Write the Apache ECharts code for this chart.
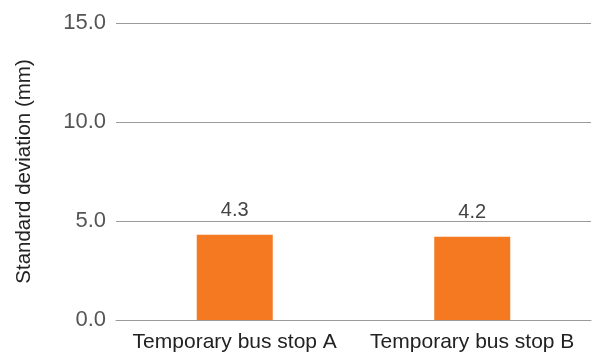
<!DOCTYPE html>
<html>
<head>
<meta charset="utf-8">
<script src="https://cdn.jsdelivr.net/npm/echarts@6/dist/echarts.min.js"></script>
<style>
  html, body { margin: 0; padding: 0; background: #fff; }
  #chart { width: 595px; height: 356px; }
</style>
</head>
<body>
<div id="chart"></div>
<script>
// Bus stop categories and their standard deviation values (mm)
const categories = ['Temporary bus stop A', 'Temporary bus stop B'];
const stdDeviation = [4.3, 4.2];
const yAxisTitle = 'Standard deviation (mm)';

const chart = echarts.init(document.getElementById('chart'));
const font = 'Liberation Sans, Arial, Helvetica, sans-serif';

chart.setOption({
  animation: false,
  grid: { left: 116, right: 4, top: 23, bottom: 36 },
  xAxis: {
    type: 'category',
    data: categories,
    axisLine: { show: true, lineStyle: { color: '#9a9a9a', width: 1 } },
    axisTick: { show: false },
    axisLabel: { interval: 0, color: '#222', fontFamily: font, fontSize: 21, margin: 12 }
  },
  yAxis: {
    type: 'value',
    min: 0,
    max: 15,
    interval: 5,
    name: yAxisTitle,
    nameLocation: 'middle',
    nameGap: 81,
    nameTextStyle: { color: '#222', fontFamily: font, fontSize: 20.5 },
    axisLine: { show: false },
    axisTick: { show: false },
    axisLabel: {
      color: '#555',
      fontFamily: font,
      fontSize: 22,
      margin: 10,
      formatter: v => v.toFixed(1)
    },
    splitLine: { lineStyle: { color: '#9a9a9a', width: 1 } }
  },
  series: [{
    type: 'bar',
    data: stdDeviation,
    barWidth: '32%',
    itemStyle: { color: '#F47920' },
    label: {
      show: true,
      position: 'top',
      distance: 14,
      color: '#444',
      fontFamily: font,
      fontSize: 20,
      formatter: p => p.value.toFixed(1)
    }
  }]
});
</script>
</body>
</html>
